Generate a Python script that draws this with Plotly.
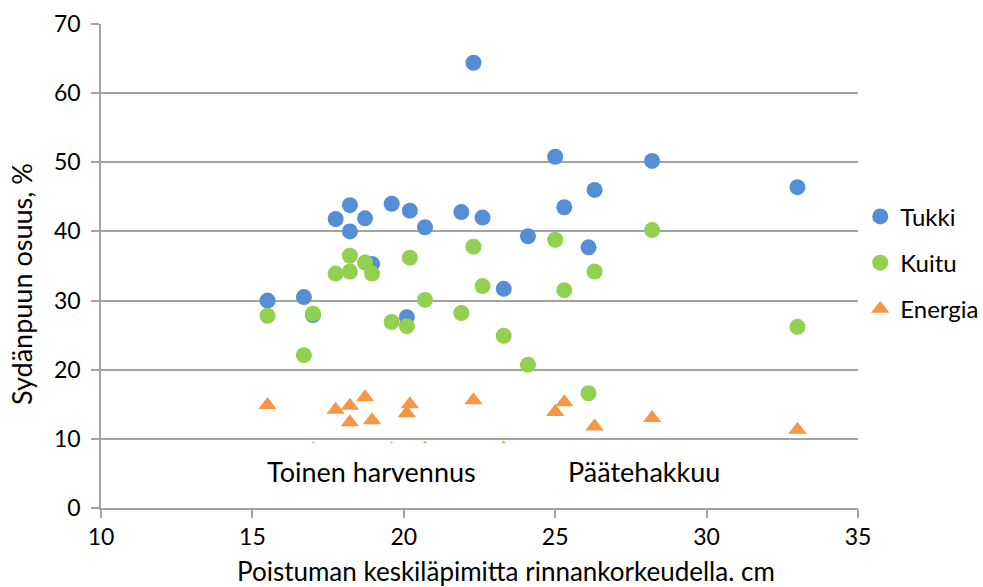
import plotly.graph_objects as go

# Poistuman keskiläpimitta (cm) kullekin leimikolle
diameter = [15.5, 16.7, 17.0, 17.75, 18.22, 18.22, 18.72, 18.95, 19.6, 20.1, 20.2,
            20.7, 21.9, 22.3, 22.6, 23.3, 24.1, 25.0, 25.3, 26.1, 26.3, 28.2, 33.0]

# Sydänpuun osuus (%) puutavaralajeittain
tukki = [30.0, 30.5, 27.9, 41.8, 43.8, 40.0, 41.9, 35.3, 44.0, 27.6, 43.0,
         40.6, 42.8, 64.4, 42.0, 31.7, 39.3, 50.8, 43.5, 37.7, 46.0, 50.2, 46.4]
kuitu = [27.8, 22.1, 28.1, 33.9, 34.2, 36.5, 35.5, 33.9, 26.9, 26.3, 36.2,
         30.1, 28.2, 37.8, 32.1, 24.9, 20.7, 38.8, 31.5, 16.6, 34.2, 40.2, 26.2]
energia = [14.9, 7.0, 8.5, 14.2, 12.4, 14.8, 16.0, 12.7, 8.5, 13.7, 15.0,
           8.6, 7.5, 15.6, 6.5, 8.6, 6.0, 13.9, 15.3, 5.5, 11.8, 13.0, 11.3]

series_names = ["Tukki", "Kuitu", "Energia"]
series_values = [tukki, kuitu, energia]
series_colors = ["#558ED5", "#92D050", "#F79646"]
series_symbols = ["circle", "circle", "triangle-up"]

x_ticks = [10, 15, 20, 25, 30, 35]
y_ticks = [0, 10, 20, 30, 40, 50, 60, 70]

FONT = "Lato"
GRID = "#A3A3A3"

fig = go.Figure()
for name, vals, col, sym in zip(series_names, series_values, series_colors, series_symbols):
    fig.add_trace(go.Scatter(
        x=diameter, y=vals, mode="markers", name=name, legendgroup=name,
        marker=dict(color=col, symbol=sym, size=16, line=dict(width=0)),
    ))

fig.update_layout(
    width=983, height=587,
    margin=dict(l=101, r=125, t=24, b=79, autoexpand=False),
    paper_bgcolor="white", plot_bgcolor="white",
    font=dict(family=FONT, color="#000000", size=23),
    showlegend=True,
    legend=dict(x=1.003, y=0.648, xanchor="left", yanchor="top",
                font=dict(size=24, family=FONT), tracegroupgap=12,
                bgcolor="rgba(0,0,0,0)"),
    xaxis=dict(range=[10, 35], tickvals=x_ticks, showgrid=False, zeroline=False,
               showline=True, linecolor=GRID, linewidth=1.6,
               ticks="outside", ticklen=8, tickcolor=GRID, tickwidth=1.6,
               ticklabelstandoff=0,
               tickfont=dict(size=23, family=FONT), fixedrange=True),
    yaxis=dict(range=[0, 70], tickvals=y_ticks, showgrid=True, gridcolor=GRID,
               gridwidth=1.6, zeroline=False,
               showline=True, linecolor=GRID, linewidth=1.6,
               ticks="outside", ticklen=8, tickcolor=GRID, tickwidth=1.6,
               ticklabelstandoff=6,
               tickfont=dict(size=23, family=FONT), fixedrange=True),
)

# Akseleiden otsikot
fig.add_annotation(text="Poistuman keskiläpimitta rinnankorkeudella. cm",
                   xref="paper", yref="paper", x=0.535, y=-0.130,
                   xanchor="center", yanchor="middle", showarrow=False,
                   font=dict(size=26, family=FONT))
fig.add_annotation(text="Sydänpuun osuus, %", textangle=-90,
                   xref="paper", yref="paper", x=-0.105, y=0.462,
                   xanchor="center", yanchor="middle", showarrow=False,
                   font=dict(size=27, family=FONT))

# Tekstilaatikot valkoisella taustalla
fig.add_annotation(text="Toinen harvennus", xref="x", yref="y",
                   x=15.48, y=9.35, xanchor="left", yanchor="top",
                   width=285, height=56, align="left", valign="middle",
                   bgcolor="white", borderpad=0, borderwidth=0, showarrow=False,
                   font=dict(size=27, family=FONT))
fig.add_annotation(text="Päätehakkuu", xref="x", yref="y",
                   x=25.42, y=9.35, xanchor="left", yanchor="top",
                   width=175, height=56, align="left", valign="middle",
                   bgcolor="white", borderpad=0, borderwidth=0, showarrow=False,
                   font=dict(size=27, family=FONT))

fig.write_html("out.html")
